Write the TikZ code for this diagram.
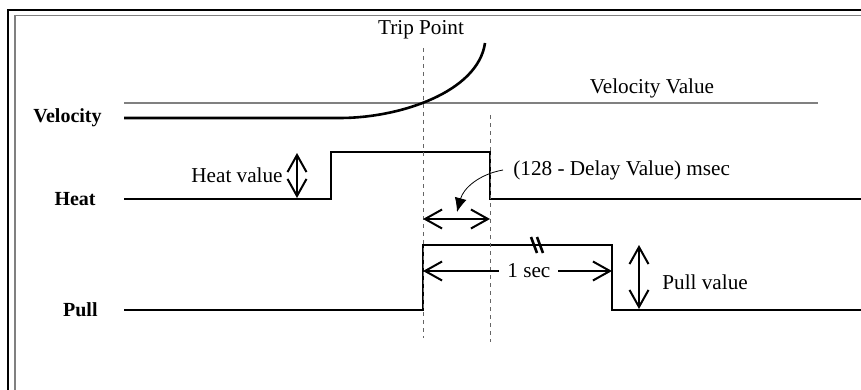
\documentclass[tikz,border=0pt]{standalone}
\usepackage{fontspec}
\setmainfont{Liberation Serif}
\usetikzlibrary{arrows.meta,positioning}
\tikzstyle{wave} = [line width=1.3pt, line join=miter]
\tikzstyle{trip} = [gray!80!black, line width=0.5pt, dash pattern=on 2pt off 2pt]
\tikzstyle{twoway} = [line width=1pt,
	{Straight Barb[length=8.5pt,width=9.5pt]}-{Straight Barb[length=8.5pt,width=9.5pt]}]
\tikzstyle{sig} = [font=\bfseries, inner sep=0pt, anchor=east]
\tikzstyle{txt} = [inner sep=0pt]

\begin{document}
\begin{tikzpicture}[x=0.5pt, y=-0.5pt, font=\fontsize{10.6}{12}\selectfont]
	\useasboundingbox (0,0) rectangle (861,390);
	% frame
	\draw [line width=0.7pt] (8,390) -- (8,10) -- (861,10);
	\draw [gray, line width=0.8pt] (15,390) -- (15,15.5) -- (861,15.5);

	\coordinate (v0) at (124,118);
	\coordinate (v1) at (340,118);
	\coordinate (v2) at (485,43);
	\coordinate (vv0) at (124,103);
	\coordinate (vv1) at (818,103);
	\coordinate (h0) at (124,199);
	\coordinate (h2) at (331,152);
	\coordinate (h4) at (490,199);
	\coordinate (h5) at (861,199);
	\coordinate (p0) at (124,310);
	\coordinate (p1) at (423,245);
	\coordinate (p2) at (612,310);
	\coordinate (p3) at (861,310);
	\coordinate (t0) at (423,48);
	\coordinate (t1) at (423,338);
	\coordinate (d0) at (490,115);
	\coordinate (d1) at (490,342);

	\node [sig, left=11pt of v0] (vel) {Velocity};
	\node [sig, left=14pt of h0] (heat) {Heat};
	\node [sig, left=13pt of p0] (pull) {Pull};
	\node [txt] (tp) at (421,30) {Trip Point};
	\node [txt] (vval) at (652,88) {Velocity Value};
	\node [txt, anchor=east] (hval) at (283,175) {Heat value};
	\node [txt, anchor=west] (delay) at (513,170) {(128 - Delay Value) msec};
	\node [txt, anchor=west] (pval) at (662,282) {Pull value};

	% signals
	\draw [gray, line width=0.8pt] (vv0) -- (vv1);
	\draw [wave] (v0) -- (v1) .. controls (400,118) and (478,92) .. (v2);
	\draw [wave] (h0) -| (h2) -| (h4) -- (h5);
	\draw [wave] (p0) -| (p1) -| (p2) -- (p3);
	\draw [trip] (t0) -- (t1);
	\draw [trip] (d0) -- (d1);
	% break mark
	\draw [line width=1.3pt] (531,237) -- (537,253) (537,237) -- (543,253);

	% spans
	\draw [twoway] (297,153) coordinate (ha) -- (297,198) coordinate (hb);
	\draw [twoway] (423,219) coordinate (da) -- (490,219) coordinate (db);
	\draw [twoway] (423,271) coordinate (sa) -- node[pos=0.56, fill=white, inner sep=4pt] (onesec) {1 sec} (612,271) coordinate (sb);
	\draw [twoway] (639,245) coordinate (pa) -- (639,309) coordinate (pb);
	\draw [-{Latex[length=7pt,width=6pt]}, line width=0.4pt] ([xshift=-5pt]delay.west) to[out=190, in=75] (457,212);
\end{tikzpicture}
\end{document}
